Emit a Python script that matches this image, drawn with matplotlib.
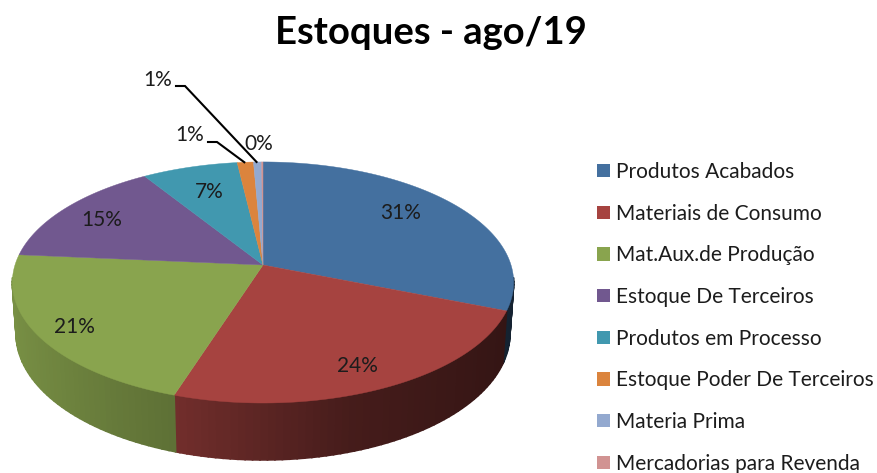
import numpy as np
from matplotlib import pyplot as plt
from matplotlib.patches import Patch
from matplotlib.colors import to_rgb

plt.rcParams['font.family'] = ['Lato', 'DejaVu Sans']

title = 'Estoques - ago/19'
categories = ['Produtos Acabados', 'Materiais de Consumo', 'Mat.Aux.de Produção', 'Estoque De Terceiros',
              'Produtos em Processo', 'Estoque Poder De Terceiros', 'Materia Prima', 'Mercadorias para Revenda']
values = [31.0, 24.0, 21.4, 14.6, 7.1, 1.2, 0.6, 0.1]
colors = ['#44709f', '#a64340', '#89a44e', '#71588f', '#4198af', '#db843d', '#93a9cf', '#d19392']

# label anchors in picture pixels, same order as values
label_pos = [(401, 213), (357, 366), (74, 327), (102, 220), (209, 192), (190, 135), (158, 80), (259, 144)]

# perspective of the disc, fitted on the picture
cx, cy = 263, 265
k, m, b = 248, 118, 0.145
depth, c = 51.6, 0.015


def project(theta, z=0.0):
    '''theta in degrees clockwise from the back of the disc, z=1 is the bottom rim'''
    t = np.radians(theta)
    X, Y = np.sin(t), np.cos(t)
    w = 1 + b * Y + c * z
    return cx + k * X / w, cy - (m * Y - depth * z) / w


def wall_shade(theta):
    '''dark on the right, lighter on the left'''
    X = np.sin(np.radians(theta))
    return np.interp(X, [-1, -0.3, 0.3, 1], [0.88, 0.68, 0.42, 0.3])


fig = plt.figure(figsize=(8.77, 4.73), dpi=100)
ax = fig.add_axes([0, 0, 1, 1])
ax.set_xlim(0, 877)
ax.set_ylim(473, 0)
ax.axis('off')

edges = np.cumsum([0] + values) / sum(values) * 360

# walls first, only the front facing part, the top covers the rest
for i, col in enumerate(colors):
    base = np.array(to_rgb(col))
    steps = np.arange(edges[i], edges[i + 1], 1.5)
    steps = np.append(steps, edges[i + 1])
    for a0, a1 in zip(steps[:-1], steps[1:]):
        if np.cos(np.radians((a0 + a1) / 2)) > -0.1:
            continue
        x0, y0 = project(a0)
        x1, y1 = project(a1)
        x2, y2 = project(a1, 1)
        x3, y3 = project(a0, 1)
        shade = base * wall_shade((a0 + a1) / 2)
        ax.fill([x0, x1, x2, x3], [y0, y1, y2, y3], color=shade, lw=1.2, zorder=1)

# top of the pie
for i, col in enumerate(colors):
    th = np.linspace(edges[i], edges[i + 1], max(3, int(values[i] * 6)))
    xs, ys = project(th)
    ax.fill(np.r_[cx, xs], np.r_[cy, ys], color=col, lw=0.3, zorder=2)

# leader lines of the two small labels
for i, (lx, ly) in zip([5, 6], [((208, 217), (142, 142)), ((176, 185), (86, 86))]):
    mid = (edges[i] + edges[i + 1]) / 2
    ex, ey = project(mid)
    ax.plot([lx[0], lx[1], ex - 1], [ly[0], ly[1], ey], color='black', lw=1.5, zorder=3,
            solid_joinstyle='miter')

for v, (px, py) in zip(values, label_pos):
    ax.text(px, py, f'{v:.0f}%', ha='center', va='center', fontsize=15, color='#1c1c1c', zorder=4)

ax.text(431, 33, title, ha='center', va='center', fontsize=27.5, fontweight='bold', color='black')

handles = [Patch(facecolor=col, edgecolor='none', label=name) for col, name in zip(colors, categories)]
ax.legend(handles=handles, loc='upper left', bbox_to_anchor=(590 / 877, 1 - 155 / 473), frameon=False,
          fontsize=15, handlelength=0.6, handleheight=0.6, handletextpad=0.3, labelspacing=1.04,
          borderaxespad=0, borderpad=0.34, labelcolor='#1c1c1c')

fig.savefig('out.png', dpi=100)
